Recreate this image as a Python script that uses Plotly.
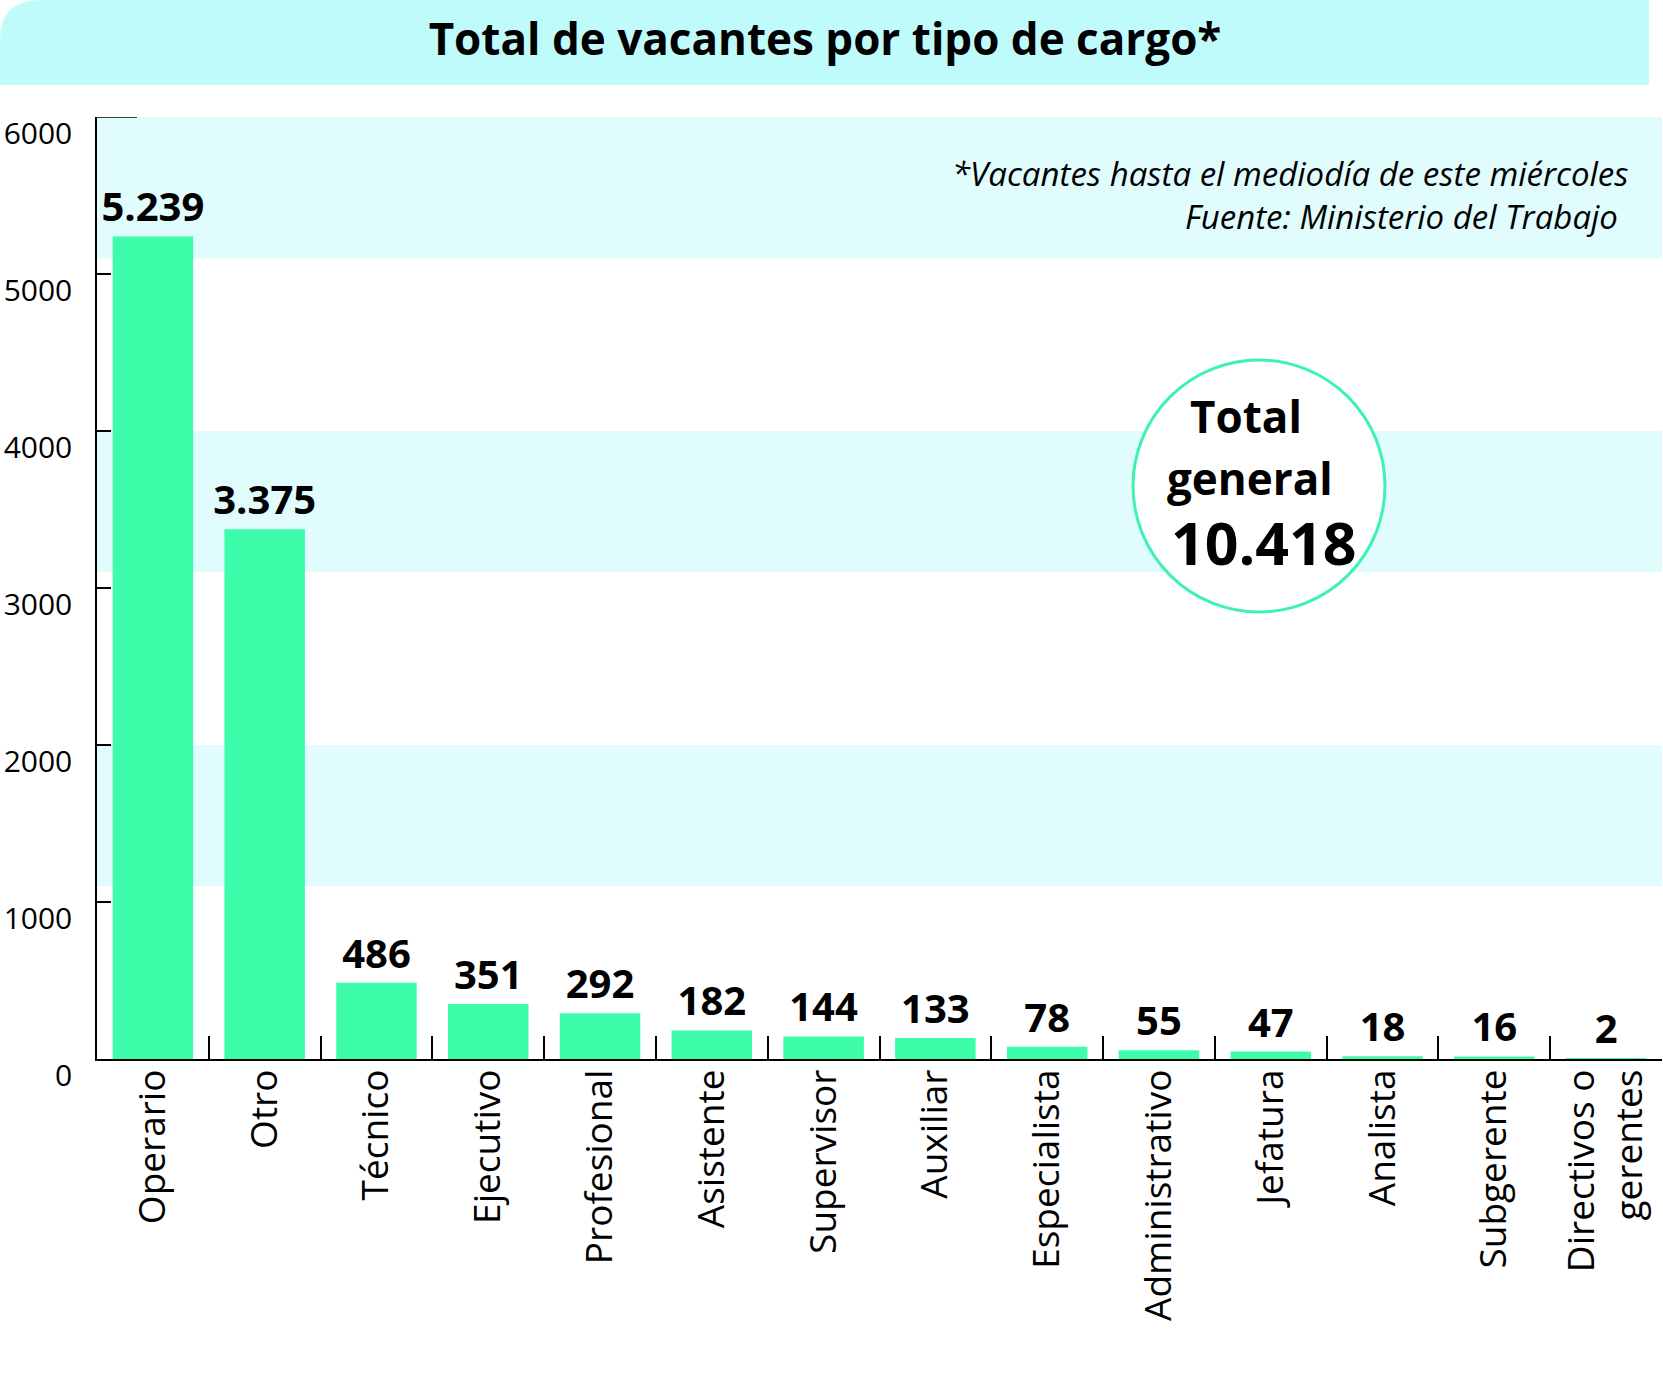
import plotly.graph_objects as go

# vacantes por tipo de cargo
cargos = ["Operario", "Otro", "Técnico", "Ejecutivo", "Profesional", "Asistente",
          "Supervisor", "Auxiliar", "Especialista", "Administrativo", "Jefatura",
          "Analista", "Subgerente", "Directivos o<br>gerentes"]
vacantes = [5239, 3375, 486, 351, 292, 182, 144, 133, 78, 55, 47, 18, 16, 2]
total_general = 10418
y_ticks = [0, 1000, 2000, 3000, 4000, 5000, 6000]
# light stripes behind the bars (value ranges)
bandas = [(5100, 6000), (3100, 4000), (1100, 2000)]

W, H = 1663, 1374
M_L, M_R, M_T, M_B = 97, 1, 117, 315
PW = W - M_L - M_R
PH = H - M_T - M_B

BAR = "#3dfcaa"
RING = "#3ef2b4"
HEAD = "#c0fbfc"
STRIPE = "#e1fcfd"
FONT = "Open Sans"


def px_x(p):
    return (p - M_L) / PW


def px_y(p):
    return (H - M_B - p) / PH


def fmt(n):
    return f"{n:,}".replace(",", ".")


fig = go.Figure()
fig.add_trace(go.Bar(
    x=cargos, y=vacantes,
    marker=dict(color=BAR, line_width=0),
    text=[fmt(v) for v in vacantes], textposition="outside", constraintext="none",
    textfont=dict(family=FONT, size=40, color="black", weight="bold"),
    cliponaxis=False, hoverinfo="skip",
))

for lo, hi in bandas:
    fig.add_shape(type="rect", xref="paper", yref="y", x0=0, x1=1, y0=lo, y1=hi,
                  fillcolor=STRIPE, line_width=0, layer="below")

# longer tick at the top of the y axis
fig.add_shape(type="line", xref="paper", yref="y", x0=0, x1=40 / PW,
              y0=y_ticks[-1], y1=y_ticks[-1], line=dict(color="black", width=1.5))

# header band with a rounded top-left corner
x0, x1 = px_x(0), px_x(1649)
yt, yb = px_y(0), px_y(85)
rx, ry = 40 / PW, 40 / PH
fig.add_shape(type="path", xref="paper", yref="paper", line_width=0, fillcolor=HEAD,
              path=f"M {x0},{yb} L {x0},{yt - ry} Q {x0},{yt} {x0 + rx},{yt} "
                   f"L {x1},{yt} L {x1},{yb} Z")

# circle with the overall total
fig.add_shape(type="circle", xref="paper", yref="paper",
              x0=px_x(1133), x1=px_x(1385), y0=px_y(612), y1=px_y(360),
              fillcolor="white", line=dict(color=RING, width=3))


def note(px, py, text, size, anchor="center", **font):
    fig.add_annotation(xref="paper", yref="paper", x=px_x(px), y=px_y(py),
                       xanchor=anchor, yanchor="middle", showarrow=False, text=text,
                       font=dict(family=FONT, size=size, color="black", **font))


note(1246, 416, "Total", 44, weight="bold")
note(1250, 478, "general", 44, weight="bold")
note(1264, 542, fmt(total_general), 59, weight="bold")

note(1631, 173, "*Vacantes hasta el mediodía de este miércoles", 33,
     anchor="right", style="italic")
note(1620, 217, "Fuente: Ministerio del Trabajo", 33, anchor="right", style="italic")

fig.update_layout(
    width=W, height=H,
    margin=dict(l=M_L, r=M_R, t=M_T, b=M_B),
    paper_bgcolor="white", plot_bgcolor="white",
    showlegend=False, bargap=0.28,
    title=dict(text="Total de vacantes por tipo de cargo*", x=825 / W, xanchor="center",
               y=1 - 40 / H, yanchor="middle", xref="container", yref="container",
               font=dict(family=FONT, size=44, color="black", weight="bold")),
    font=dict(family=FONT, color="black"),
)
fig.update_xaxes(
    showline=True, linecolor="black", linewidth=1.5,
    ticks="inside", tickson="boundaries", ticklen=23, tickwidth=1.5, tickcolor="black",
    tickangle=-90, ticklabelstandoff=-6,
    tickfont=dict(family=FONT, size=37, color="black"),
    showgrid=False, fixedrange=True,
)
fig.update_yaxes(
    range=[0, 6000], tickvals=y_ticks, tickformat="d",
    showline=True, linecolor="black", linewidth=1.5,
    ticks="inside", ticklen=14, tickwidth=1.5, tickcolor="black",
    ticklabelstandoff=17, ticklabelshift=16,
    tickfont=dict(family=FONT, size=30, color="black"),
    showgrid=False, zeroline=False, fixedrange=True,
)

fig.write_html("out.html", config={"displayModeBar": False},
               post_script="document.body.style.margin='0';")
